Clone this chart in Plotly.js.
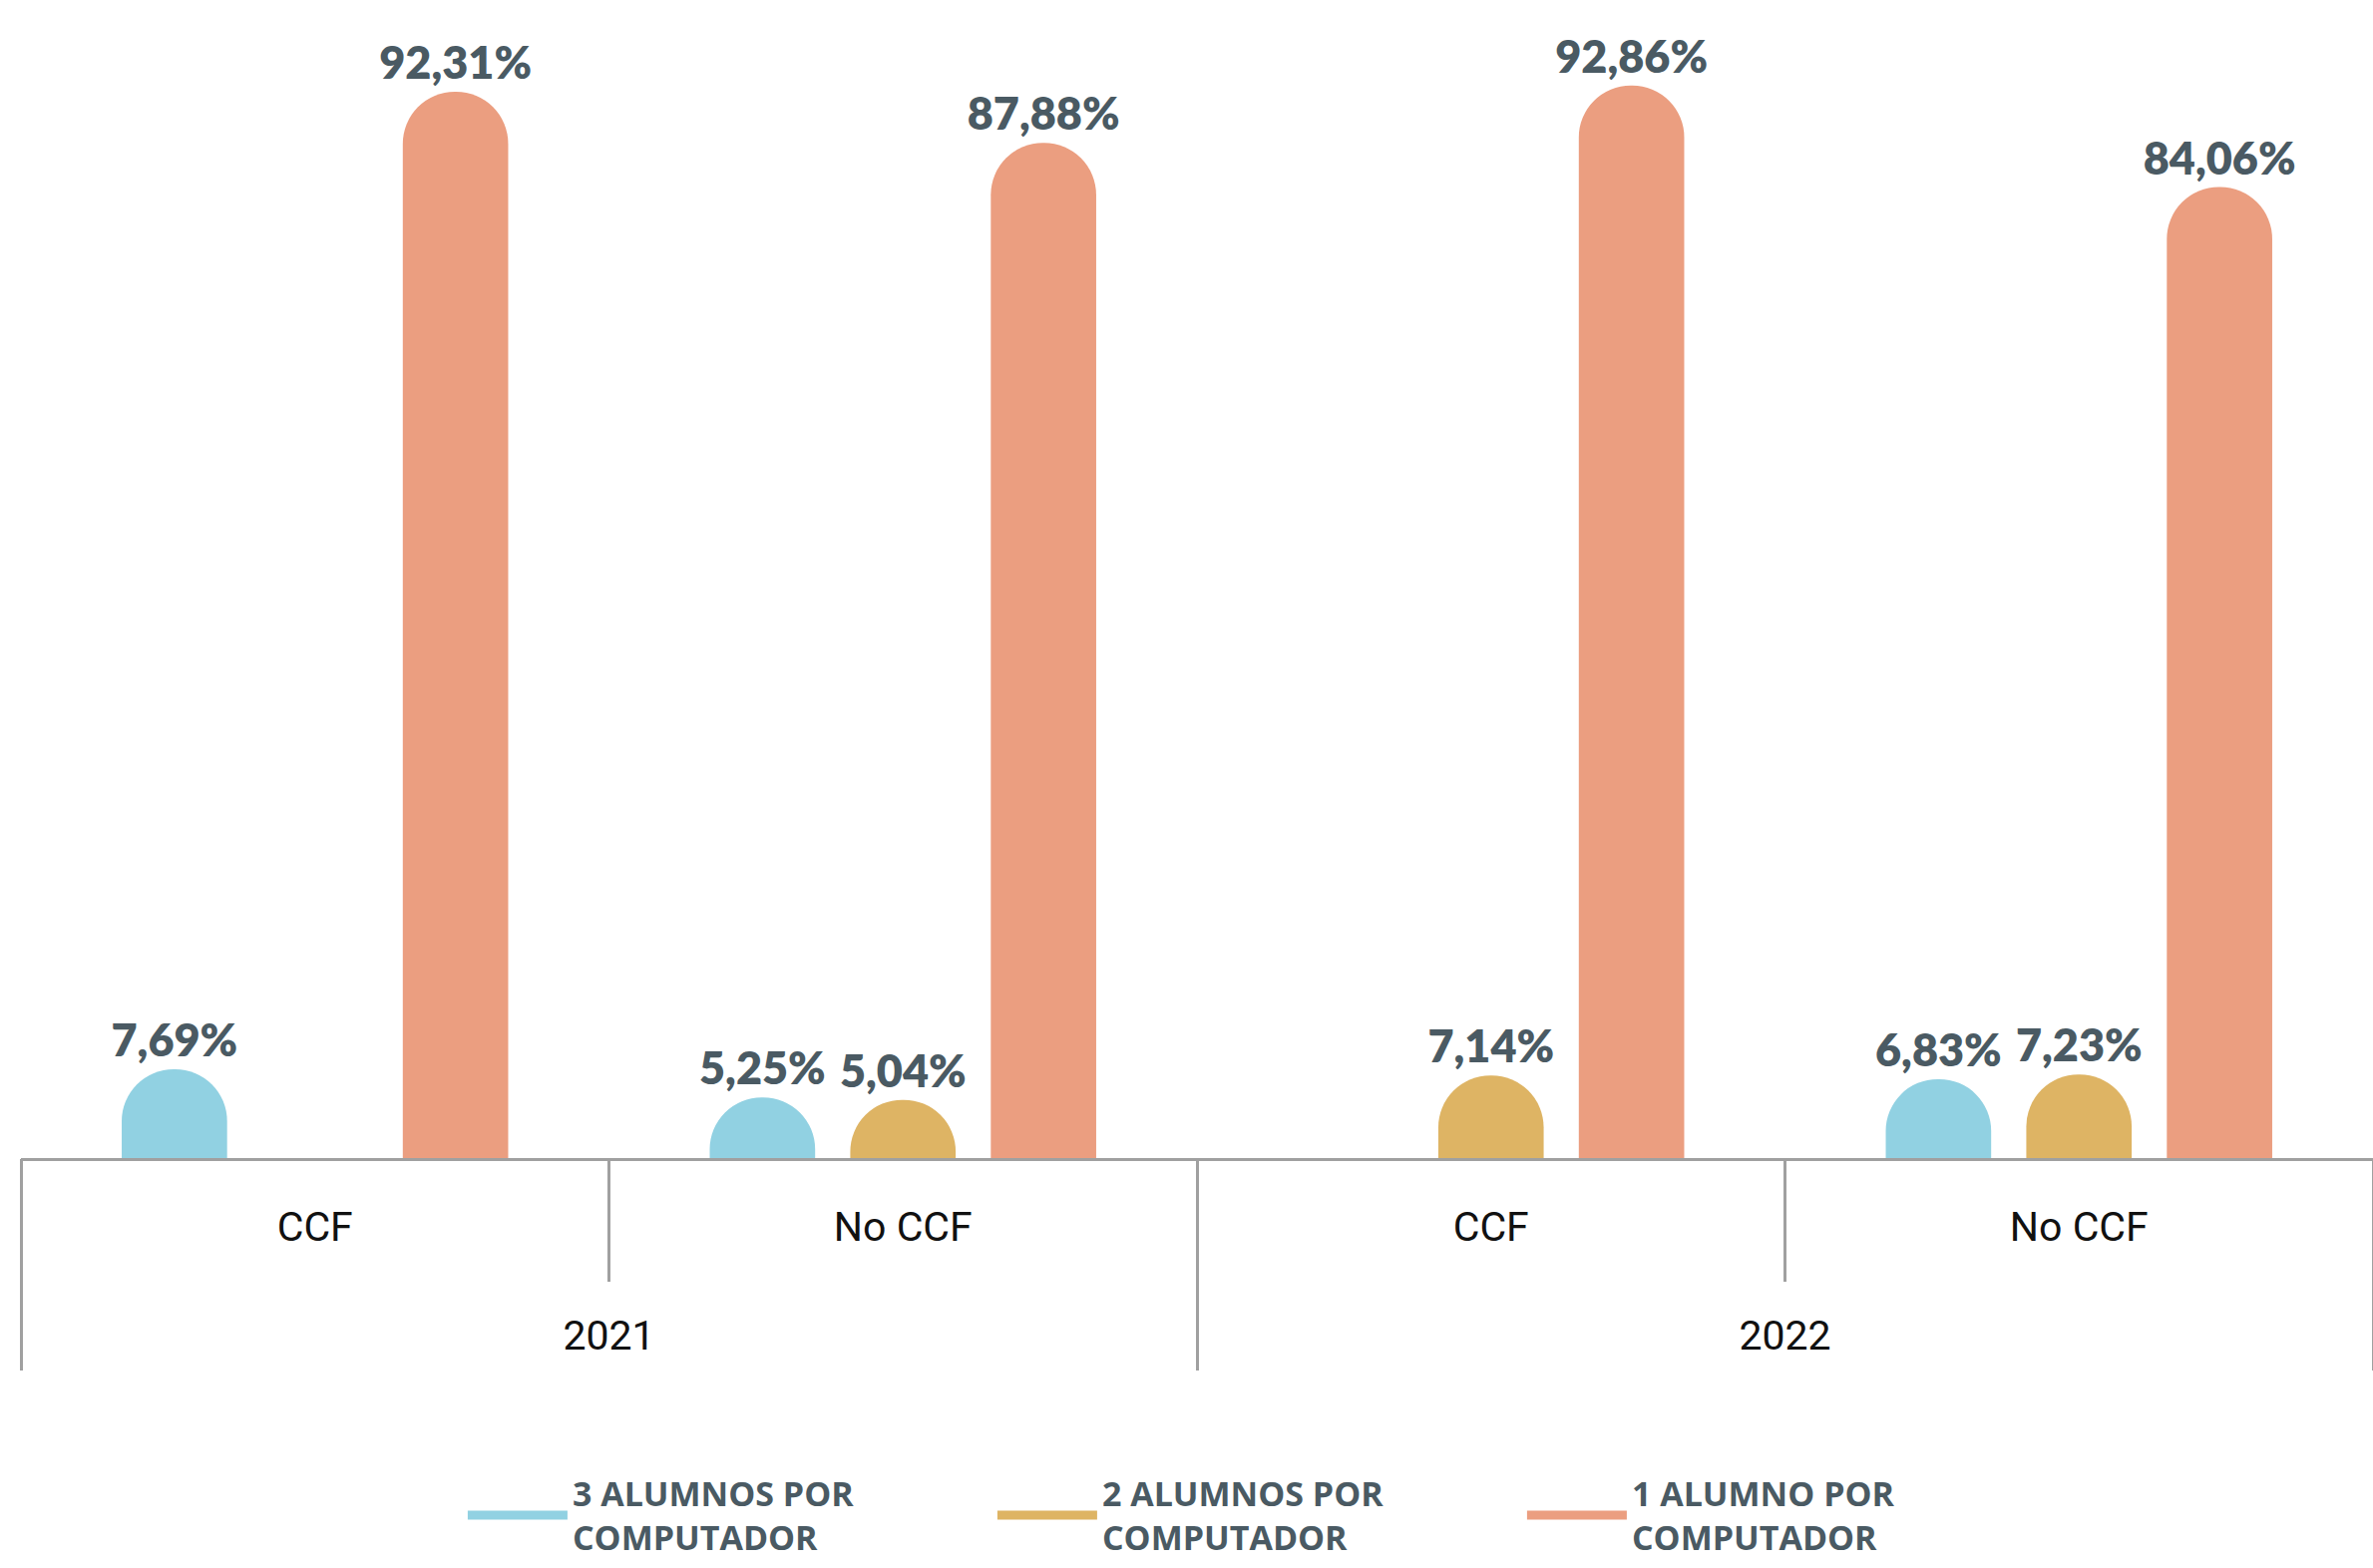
<!DOCTYPE html>
<html>
<head>
<meta charset="utf-8">
<script src="https://cdn.plot.ly/plotly-3.0.1.min.js"></script>
<style>
html,body{margin:0;padding:0;background:#fff;}
#chart{width:2379px;height:1572px;}
</style>
</head>
<body>
<div id="chart"></div>
<script>
// Data
const years = ["2021", "2021", "2022", "2022"];
const groups = ["CCF", "No CCF", "CCF", "No CCF"];
const yearLabels = ["2021", "2022"];
const seriesNames = ["3 ALUMNOS POR<br>COMPUTADOR", "2 ALUMNOS POR<br>COMPUTADOR", "1 ALUMNO POR<br>COMPUTADOR"];
const tresAlumnos = [7.69, 5.25, null, 6.83];
const dosAlumnos = [null, 5.04, 7.14, 7.23];
const unAlumno = [92.31, 87.88, 92.86, 84.06];
const colors = ["#91D1E2", "#DEB464", "#EB9E80"];

const seriesValues = [tresAlumnos, dosAlumnos, unAlumno];
const keys = years.map((y, i) => y + " " + groups[i]);
const labelFont = {family: "Lato, 'Open Sans', sans-serif", size: 45, color: "#4A5A63", weight: 800};

const traces = [];
seriesValues.forEach((vals, i) => {
  traces.push({
    type: "bar",
    x: keys,
    y: vals,
    name: seriesNames[i],
    marker: {color: colors[i], cornerradius: "50%", line: {width: 0}},
    texttemplate: "%{y:.2f}%",
    textposition: "outside",
    textfont: labelFont,
    constraintext: "none",
    cliponaxis: false,
    showlegend: false,
    hoverinfo: "skip"
  });
});
// year axis registration (no visible marks)
traces.push({
  type: "scatter",
  mode: "markers",
  x: yearLabels,
  y: [null, null],
  xaxis: "x2",
  yaxis: "y",
  showlegend: false,
  hoverinfo: "skip"
});
// legend entries (line style)
seriesNames.forEach((n, i) => {
  traces.push({
    type: "scatter",
    mode: "lines",
    x: [null],
    y: [null],
    name: n,
    line: {color: colors[i], width: 9},
    showlegend: true,
    hoverinfo: "skip"
  });
});

const axisGrey = "#A0A0A0";
const layout = {
  width: 2379,
  height: 1572,
  margin: {l: 21, r: 0, t: 3, b: 411, autoexpand: false},
  paper_bgcolor: "#ffffff",
  plot_bgcolor: "#ffffff",
  separators: ",.",
  barmode: "group",
  bargap: 0.283,
  bargroupgap: 0.25,
  showlegend: true,
  xaxis: {
    type: "category",
    tickmode: "array",
    tickvals: keys,
    ticktext: groups,
    range: [-0.5, 3.5],
    showline: true,
    linecolor: axisGrey,
    linewidth: 3,
    ticks: "outside",
    tickson: "boundaries",
    ticklen: 121,
    tickwidth: 3,
    tickcolor: axisGrey,
    ticklabelstandoff: 31,
    tickfont: {family: "Roboto, sans-serif", size: 41, color: "#111111"},
    showgrid: false,
    zeroline: false,
    fixedrange: true
  },
  xaxis2: {
    type: "category",
    overlaying: "x",
    anchor: "y",
    side: "bottom",
    categoryorder: "array",
    categoryarray: yearLabels,
    range: [-0.5, 1.5],
    showline: false,
    ticks: "outside",
    tickson: "boundaries",
    ticklen: 212,
    tickwidth: 3,
    tickcolor: axisGrey,
    ticklabelstandoff: 150,
    tickfont: {family: "Roboto, sans-serif", size: 41, color: "#111111"},
    showgrid: false,
    zeroline: false,
    fixedrange: true
  },
  yaxis: {
    range: [0, 100],
    visible: false,
    showgrid: false,
    zeroline: false,
    fixedrange: true
  },
  legend: {
    orientation: "h",
    xref: "container",
    yref: "container",
    x: 0.195,
    xanchor: "left",
    y: 0.066,
    yanchor: "top",
    itemwidth: 100,
    entrywidth: 416,
    font: {family: "'Open Sans', Lato, sans-serif", size: 34, color: "#4A5A63", weight: 700},
    bgcolor: "rgba(0,0,0,0)"
  },
  hovermode: false
};

Plotly.newPlot("chart", traces, layout, {displayModeBar: false, staticPlot: true});
</script>
</body>
</html>
